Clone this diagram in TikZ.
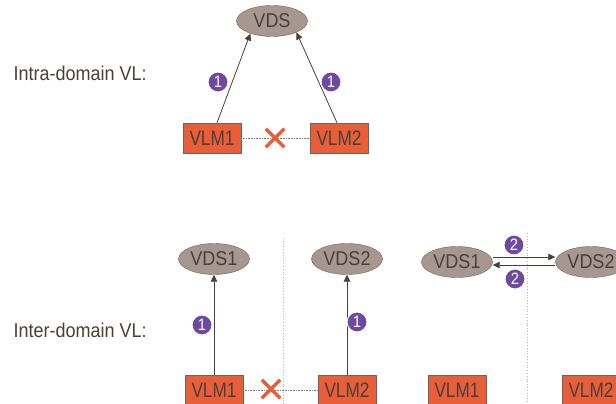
\documentclass[tikz,border=0pt]{standalone}
\usepackage{fontspec}
\setmainfont{Liberation Sans}[FakeStretch=0.9]
\newfontfamily\vlmfont{Liberation Sans}[FakeStretch=0.82]
\usetikzlibrary{shapes.geometric, shapes.misc, arrows.meta}
\definecolor{vlmorange}{RGB}{232,94,56}
\definecolor{vdsgrey}{RGB}{166,152,144}
\definecolor{vdsedge}{RGB}{110,98,92}
\definecolor{inkbrown}{RGB}{74,63,59}
\definecolor{stepviolet}{RGB}{110,74,158}
\definecolor{sepgrey}{RGB}{185,180,178}
\tikzstyle{vlm}=[rectangle, draw=vdsedge, fill=vlmorange, minimum width=58pt, minimum height=30pt, inner sep=0pt, text=inkbrown, font=\vlmfont\fontsize{21}{24}\selectfont]
\tikzstyle{vds}=[ellipse, draw=vdsedge, fill=vdsgrey, minimum width=71pt, minimum height=31pt, inner sep=0pt, text=inkbrown]
\tikzstyle{badge}=[circle, draw=white, line width=1pt, fill=stepviolet, text=white, minimum size=20pt, inner sep=0pt, font=\fontsize{16.5}{16.5}\selectfont]
\tikzstyle{nolink}=[cross out, draw=vlmorange, line width=3.5pt, minimum size=15pt, inner sep=0pt]
\tikzstyle{msg}=[inkbrown, line width=0.8pt, -{Triangle[length=7pt,width=6.5pt]}]
\tikzstyle{peer}=[densely dotted, gray, line width=0.6pt]
\tikzstyle{border}=[dotted, sepgrey, line width=0.8pt]

\begin{document}
\begin{tikzpicture}[x=1pt, y=-1pt, font=\fontsize{20}{24}\selectfont]
	\useasboundingbox (0,0) rectangle (616,404);
% Captions
	\node[anchor=west, text=inkbrown] (intra) at (10,73) {Intra-domain VL:};
	\node[anchor=west, text=inkbrown] (inter) at (10,330) {Inter-domain VL:};
% Domain borders
	\draw[border] (283,238) -- (283,404);
	\draw[border] (527,233) -- (527,404);
% Intra-domain case
	\node[vds] (vds) at (272,21) {VDS};
	\node[vlm] (vlmA) at (212,138) {VLM1};
	\node[vlm] (vlmB) at (339,138) {VLM2};
	\draw[msg] ([xshift=5pt]vlmA.north) -- (vds.210);
	\draw[msg] ([xshift=-2pt]vlmB.north) -- (vds.335);
	\draw[peer] (vlmA.east) -- (vlmB.west);
	\node[nolink] (xa) at (275,138) {};
	\node[badge] (ba) at (218,82) {1};
	\node[badge] (bb) at (331,82) {1};
% Inter-domain case, no peering
	\node[vds] (vdsA) at (214,259) {VDS1};
	\node[vds] (vdsB) at (347,259) {VDS2};
	\node[vlm] (vlmC) at (214,390) {VLM1};
	\node[vlm] (vlmD) at (347,390) {VLM2};
	\draw[msg] (vlmC.north) -- (vdsA.south);
	\draw[msg] (vlmD.north) -- (vdsB.south);
	\draw[peer] (vlmC.east) -- (vlmD.west);
	\node[nolink] (xb) at (271,389) {};
	\node[badge] (bc) at (202,325) {1};
	\node[badge] (bd) at (357,322) {1};
% Inter-domain case, VDS peering
	\node[vds] (vdsC) at (457,262) {VDS1};
	\node[vds] (vdsD) at (591,262) {VDS2};
	\node[vlm] (vlmE) at (457,390) {VLM1};
	\node[vlm] (vlmF) at (591,390) {VLM2};
	\draw[msg] ([yshift=5pt]vdsC.east) -- ([yshift=5pt]vdsD.west);
	\draw[msg] ([yshift=-3pt]vdsD.west) -- ([yshift=-3pt]vdsC.east);
	\node[badge] (be) at (514,245) {2};
	\node[badge] (bf) at (515,279) {2};
\end{tikzpicture}
\end{document}
